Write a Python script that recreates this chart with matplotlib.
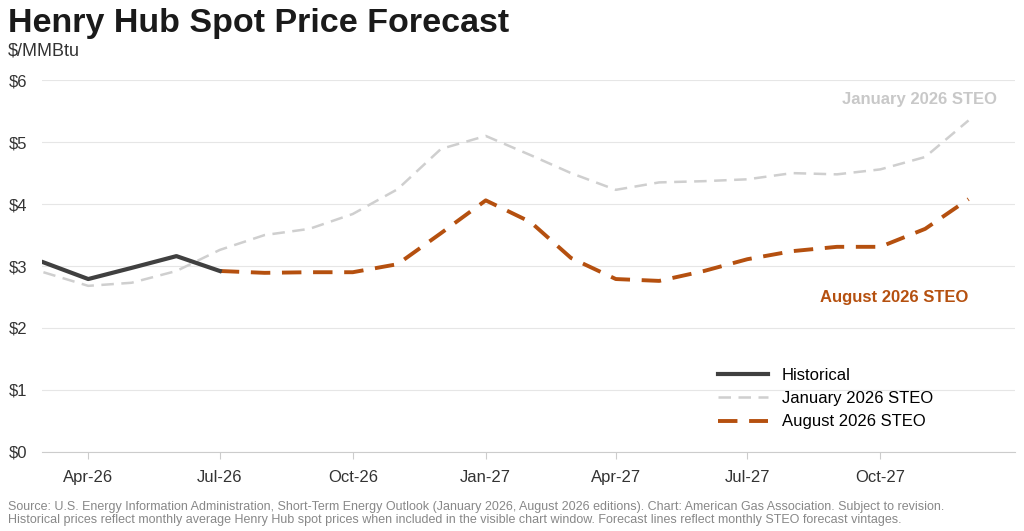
import matplotlib.pyplot as plt
import pandas as pd

months = pd.date_range('2026-03-01', '2027-12-01', freq='MS')
hist = [3.06, 2.79, 2.97, 3.16, 2.92]
jan_steo = [2.90, 2.68, 2.73, 2.92, 3.26, 3.50, 3.60, 3.84, 4.24, 4.89, 5.10, 4.79,
            4.50, 4.23, 4.35, 4.37, 4.40, 4.50, 4.48, 4.56, 4.76, 5.35]
aug_steo = [2.92, 2.89, 2.90, 2.90, 3.03, 3.53, 4.06, 3.71, 3.13, 2.79, 2.76, 2.92,
            3.11, 3.24, 3.31, 3.31, 3.60, 4.08]
tick_dates = pd.to_datetime(['2026-04-01', '2026-07-01', '2026-10-01', '2027-01-01',
                             '2027-04-01', '2027-07-01', '2027-10-01'])
tick_labels = ['Apr-26', 'Jul-26', 'Oct-26', 'Jan-27', 'Apr-27', 'Jul-27', 'Oct-27']

plt.rcParams['font.family'] = ['Liberation Sans', 'DejaVu Sans']
fig = plt.figure(figsize=(10.24, 5.31), dpi=100)
ax = fig.add_axes([0.041, 0.149, 0.95, 0.70])

ax.plot(months[:len(hist)], hist, color='#404040', lw=3, label='Historical', zorder=4)
ax.plot(months, jan_steo, color='#cfcfcf', lw=1.8, ls=(0, (5, 3)), label='January 2026 STEO', zorder=2)
ax.plot(months[4:], aug_steo, color='#b5500f', lw=2.8, ls=(0, (5, 3)), label='August 2026 STEO', zorder=3)

ax.set_ylim(0, 6)
ax.set_yticks(range(7))
ax.set_yticklabels([f'${i}' for i in range(7)], fontsize=12, color='#333333', ha='left')
ax.set_xlim(months[0] - pd.Timedelta(days=1), months[-1] + pd.Timedelta(days=32))
ax.set_xticks(tick_dates)
ax.set_xticklabels(tick_labels, fontsize=12, color='#333333')
ax.tick_params(axis='y', length=0, pad=24)
ax.tick_params(axis='x', length=5, color='#cccccc', pad=8)
ax.grid(axis='y', color='#e6e6e6', lw=0.8)
for s in ['top', 'right', 'left']:
    ax.spines[s].set_visible(False)
ax.spines['bottom'].set_color('#cccccc')

ax.text(months[-1] + pd.Timedelta(days=20), 5.62, 'January 2026 STEO', color='#c8c8c8',
        fontsize=12, fontweight='bold', ha='right')
ax.text(months[-1], 2.42, 'August 2026 STEO', color='#b5500f', fontsize=12, fontweight='bold', ha='right')
ax.legend(loc='lower left', bbox_to_anchor=(0.68, 0.02), frameon=False, fontsize=12,
          handlelength=3, labelspacing=0.5)

fig.text(0.008, 0.94, 'Henry Hub Spot Price Forecast', fontsize=24.5, fontweight='bold', color='#1a1a1a')
fig.text(0.008, 0.895, '$/MMBtu', fontsize=13, color='#333333')
fig.text(0.008, 0.04, 'Source: U.S. Energy Information Administration, Short-Term Energy Outlook (January 2026, August 2026 editions). Chart: American Gas Association. Subject to revision.',
         fontsize=9, color='#888888')
fig.text(0.008, 0.015, 'Historical prices reflect monthly average Henry Hub spot prices when included in the visible chart window. Forecast lines reflect monthly STEO forecast vintages.',
         fontsize=9, color='#888888')
fig.savefig('out.png', dpi=100)
